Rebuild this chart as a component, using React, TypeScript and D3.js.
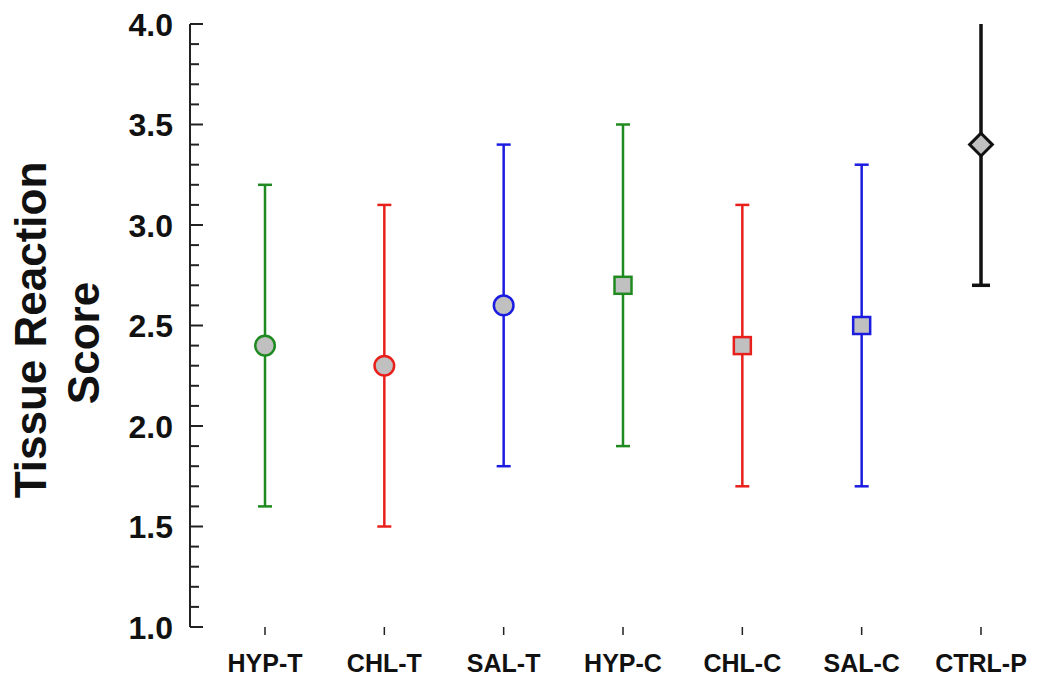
import React from 'react';
import * as d3 from 'd3';

// groups and their values
const groups = ['HYP-T', 'CHL-T', 'SAL-T', 'HYP-C', 'CHL-C', 'SAL-C', 'CTRL-P'];
const means = [2.4, 2.3, 2.6, 2.7, 2.4, 2.5, 3.4];
const lows = [1.6, 1.5, 1.8, 1.9, 1.7, 1.7, 2.7];
const highs = [3.2, 3.1, 3.4, 3.5, 3.1, 3.3, 4.0];
const colors = ['#1f8a1f', '#e8201c', '#1c1ce0', '#1f8a1f', '#e8201c', '#1c1ce0', '#111111'];
const shapes = ['circle', 'circle', 'circle', 'square', 'square', 'square', 'diamond'];
const yTicks = [1.0, 1.5, 2.0, 2.5, 3.0, 3.5, 4.0];

const W = 1037;
const H = 681;
const FONT = '"Liberation Sans", Arial, sans-serif';

export default function App() {
  const axisX = 190;
  const y = d3.scaleLinear().domain([1, 4]).range([627, 24]);
  const x = d3.scalePoint<string>().domain(groups).range([265, 981]);

  const minor = d3.range(10, 41).map(d => d / 10);

  const marker = (shape: string, cx: number, cy: number, color: string) => {
    if (shape === 'circle') {
      return <circle cx={cx} cy={cy} r={9.8} fill="#c0c0c0" stroke={color} strokeWidth={2.5} />;
    }
    if (shape === 'square') {
      return <rect x={cx - 8.5} y={cy - 8.5} width={17} height={17} fill="#c0c0c0" stroke={color} strokeWidth={2.5} />;
    }
    const s = d3.symbol().type(d3.symbolDiamond2).size(330)();
    return <path d={s || ''} transform={`translate(${cx},${cy})`} fill="#c0c0c0" stroke={color} strokeWidth={3} />;
  };

  return (
    <svg width={W} height={H} style={{ position: 'absolute', left: 0, top: 0, background: '#fff' }} fontFamily={FONT}>
      {/* y axis */}
      <line x1={axisX} x2={axisX} y1={y(4)} y2={y(1)} stroke="#222" strokeWidth={2} />
      {minor.map(v => {
        const major = Math.abs(v * 2 - Math.round(v * 2)) < 1e-6;
        return (
          <line key={v} x1={axisX} x2={axisX + (major ? 13 : 9)} y1={y(v)} y2={y(v)} stroke="#222" strokeWidth={2} />
        );
      })}
      {yTicks.map(t => (
        <text key={t} x={173} y={y(t)} dy="0.36em" textAnchor="end" fontSize={32} fontWeight="bold" fill="#111">
          {t.toFixed(1)}
        </text>
      ))}

      {/* y label */}
      <text transform="translate(46,330) rotate(-90)" textAnchor="middle" fontSize={44} fontWeight="bold" fill="#111">
        Tissue Reaction
      </text>
      <text transform="translate(99,343) rotate(-90)" textAnchor="middle" fontSize={44} fontWeight="bold" fill="#111">
        Score
      </text>

      {/* x ticks and labels */}
      {groups.map(g => (
        <g key={g}>
          <line x1={x(g)} x2={x(g)} y1={627} y2={635} stroke="#222" strokeWidth={1.5} />
          <text x={x(g)} y={672} textAnchor="middle" fontSize={25} fontWeight="bold" fill="#111">
            {g}
          </text>
        </g>
      ))}

      {/* error bars and markers */}
      {groups.map((g, i) => {
        const cx = x(g) as number;
        const c = colors[i];
        const last = i === groups.length - 1;
        const sw = last ? 3.5 : 2.5;
        const cap = last ? 9 : 7;
        return (
          <g key={g}>
            <line x1={cx} x2={cx} y1={y(lows[i])} y2={y(highs[i])} stroke={c} strokeWidth={sw} />
            <line x1={cx - cap} x2={cx + cap} y1={y(lows[i])} y2={y(lows[i])} stroke={c} strokeWidth={sw} />
            {!last && (
              <line x1={cx - cap} x2={cx + cap} y1={y(highs[i])} y2={y(highs[i])} stroke={c} strokeWidth={sw} />
            )}
            {marker(shapes[i], cx, y(means[i]), c)}
          </g>
        );
      })}
    </svg>
  );
}
